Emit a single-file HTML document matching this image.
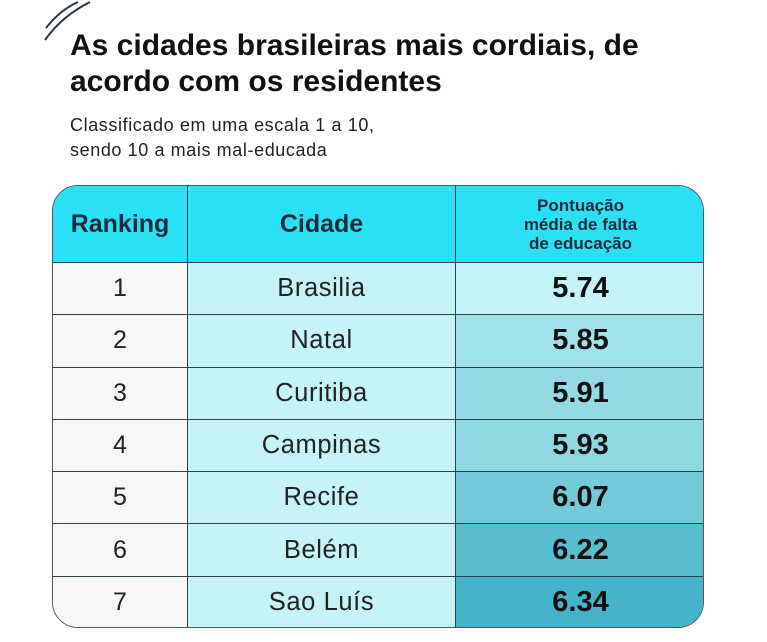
<!DOCTYPE html>
<html><head><meta charset="utf-8"><style>
body{margin:0;width:767px;height:642px;background:#fff;font-family:"Liberation Sans",sans-serif;position:relative;overflow:hidden}
.t{position:absolute;left:70px;top:28px;font-size:30px;font-weight:bold;color:#111;line-height:36px;letter-spacing:0px}
.s{position:absolute;left:70px;top:113px;font-size:18px;color:#222;line-height:25px;letter-spacing:0.6px}
#tbl{position:absolute;left:52px;top:185px;width:652px;height:443px;border:1.5px solid #4a5a66;border-radius:26px;overflow:hidden;box-sizing:border-box}
.cell{position:absolute;box-sizing:border-box;display:flex;align-items:center;justify-content:center;text-align:center;border-right:1.5px solid #2f3f4c;border-bottom:1.5px solid #2f3f4c}
.h{background:#29e0f4;font-weight:bold;color:#1d2a3a}
</style></head><body>
<svg style="position:absolute;left:40px;top:0" width="70" height="50"><path d="M6 28 Q20 10 38 2" stroke="#2a3442" stroke-width="2" fill="none"/><path d="M5 40 Q22 16 50 2" stroke="#2a3442" stroke-width="2" fill="none"/></svg>
<div class="t">As cidades brasileiras mais cordiais, de<br>acordo com os residentes</div>
<div class="s">Classificado em uma escala 1 a 10,<br>sendo 10 a mais mal-educada</div>
<div id="tbl"></div>
<script>
const ranks=[1,2,3,4,5,6,7];
const cities=["Brasilia","Natal","Curitiba","Campinas","Recife","Belém","Sao Luís"];
const scores=[5.74,5.85,5.91,5.93,6.07,6.22,6.34];
const tbl=document.getElementById('tbl');
const colX=[0,135,403,652],hdrH=77,rowH=(443-77)/7;
function cell(x,y,w,h,txt,st){const d=document.createElement('div');d.className='cell';d.style.cssText+=`left:${x}px;top:${y}px;width:${w}px;height:${h}px;`+st;d.innerHTML=txt;tbl.appendChild(d);return d;}
const hd=["Ranking","Cidade","Pontuação<br>média de falta<br>de educação"];
hd.forEach((t,i)=>{const d=cell(colX[i],0,colX[i+1]-colX[i],hdrH,t,(i==2?'font-size:17px;line-height:19px;':'font-size:25px;')+(i==2?'border-right:none;':''));d.classList.add('h');

});
function scoreColor(v){const a=[196,243,248],b=[69,179,201];let t=Math.max(0,Math.min(1,(v-5.74)/(6.34-5.74)));t=Math.pow(t,0.75);return `rgb(${a.map((c,i)=>Math.round(c+(b[i]-c)*t)).join(',')})`;}
ranks.forEach((r,i)=>{const y=hdrH+i*rowH,last=i==ranks.length-1?'border-bottom:none;':'';
let d=cell(colX[0],y,colX[1]-colX[0],rowH,r,'background:#f7f7f6;font-size:25px;color:#222;'+last);


d=cell(colX[1],y,colX[2]-colX[1],rowH,cities[i],'background:#c4f3f8;font-size:25.5px;letter-spacing:0.6px;color:#222;'+last);


d=cell(colX[2],y,colX[3]-colX[2],rowH,scores[i].toFixed(2),'background:'+scoreColor(scores[i])+';font-size:29px;font-weight:bold;color:#111;border-right:none;'+last);

});
</script>
</body></html>
